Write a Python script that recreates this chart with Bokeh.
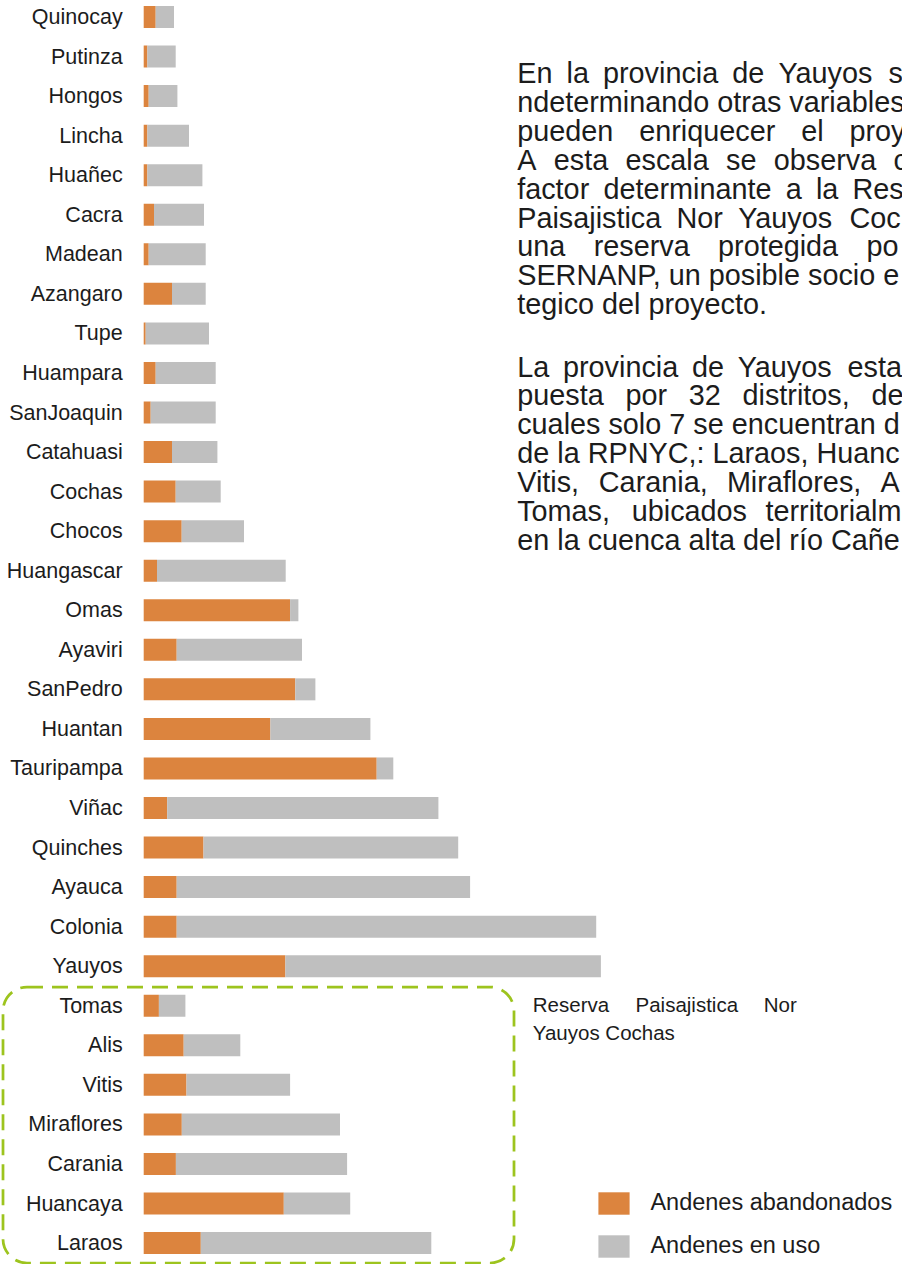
from bokeh.plotting import figure
from bokeh.models import Range1d, Label, BoxAnnotation, Legend, LegendItem, ColumnDataSource
from bokeh.core.properties import value
from bokeh.embed import file_html
from bokeh.resources import INLINE

# ---------------- data ----------------
districts = ["Quinocay", "Putinza", "Hongos", "Lincha", "Huañec", "Cacra", "Madean", "Azangaro",
             "Tupe", "Huampara", "SanJoaquin", "Catahuasi", "Cochas", "Chocos", "Huangascar", "Omas",
             "Ayaviri", "SanPedro", "Huantan", "Tauripampa", "Viñac", "Quinches", "Ayauca", "Colonia",
             "Yauyos", "Tomas", "Alis", "Vitis", "Miraflores", "Carania", "Huancaya", "Laraos"]
abandonados = [12, 3.7, 5, 3.7, 3.7, 10.3, 5, 28.3,
               2, 12, 7, 28.3, 32, 38, 13.3, 146.4,
               33, 151.6, 126.7, 233, 23.5, 59.8, 33, 33,
               141.7, 15.2, 40, 42.8, 38.1, 32.2, 140.1, 57.1]
en_uso = [18.3, 28.3, 28.7, 41.6, 55, 50, 57, 33.7,
          63.3, 60, 65, 45.4, 45, 62.3, 128.7, 8.3,
          125.3, 20.1, 100, 16.6, 271.2, 254.7, 293.4, 419.5,
          315.5, 26.5, 56.6, 103.6, 158.2, 171.2, 66.4, 230.5]
series_labels = ["Andenes abandonados", "Andenes en uso"]
series_colors = ["#DC843E", "#BFBFBF"]
reserve_note = ["Reserva Paisajistica Nor", "Yauyos Cochas"]

# paragraph lines: (visible text, start x of last visible word if justified else None)
para1 = [("En la provincia de Yauyos s", 888),
         ("ndeterminando otras variables", None),
         ("pueden enriquecer el proy", 849),
         ("A esta escala se observa c", 893),
         ("factor determinante a la Res", 852),
         ("Paisajistica Nor Yauyos Coc", 849),
         ("una reserva protegida po", 866),
         ("SERNANP, un posible socio e", None),
         ("tegico del proyecto.", None)]
para2 = [("La provincia de Yauyos esta", 847),
         ("puesta por 32 distritos, de", 871),
         ("cuales solo 7 se encuentran d", None),
         ("de la RPNYC,: Laraos, Huanc", None),
         ("Vitis, Carania, Miraflores, A", 880),
         ("Tomas, ubicados territorialm", 765),
         ("en la cuenca alta del río Cañe", None)]

# ---------------- layout helpers ----------------
W, H = 902, 1264
BAR0 = 143.2          # pixel where bars start
ROW0, ROWH = 16.5, 39.55
FONT = "Liberation Sans"
TXT = "#1c1c1c"


def ydata(ref_y):
    return (ref_y - ROW0) / ROWH


def xdata(ref_x):
    return ref_x - BAR0


AW = dict(zip("abcdefghijklmnopqrstuvwxyz",
              [556, 556, 500, 556, 556, 278, 556, 556, 222, 222, 500, 222, 833, 556, 556, 556, 556, 333, 500, 278, 556, 500, 722, 500, 500, 500]))
AW.update(dict(zip("ABCDEFGHIJKLMNOPQRSTUVWXYZ",
                   [667, 667, 722, 722, 667, 611, 778, 722, 278, 500, 667, 556, 833, 722, 778, 667, 778, 722, 667, 611, 722, 667, 944, 667, 667, 611])))
AW.update({" ": 278, ",": 278, ".": 278, ":": 278, "ñ": 556, "í": 278})


def tw(s, size):
    return sum(AW.get(c, 556) for c in s) * size / 1000.0


pos = list(range(len(districts)))
src = ColumnDataSource(dict(district=districts, pos=pos, abandonados=abandonados, en_uso=en_uso))

p = figure(width=W, height=H, output_backend="svg", toolbar_location=None, tools="",
           x_range=Range1d(xdata(0), xdata(W)), y_range=Range1d(ydata(H), ydata(0)),
           min_border=0, x_axis_location=None, y_axis_location=None, outline_line_color=None)
p.xgrid.visible = False
p.ygrid.visible = False

rs = p.hbar_stack(["abandonados", "en_uso"], y="pos", height=0.556, source=src,
                  fill_color=series_colors, line_color=None)

# category labels
p.text(x=0, y="pos", text="district", source=src, x_offset=-21, text_align="right",
       text_baseline="middle", text_font=value(FONT), text_font_size=value("21.5px"), text_color=TXT)

# legend
legend = Legend(items=[LegendItem(label=series_labels[0], renderers=[rs[0]]),
                       LegendItem(label=series_labels[1], renderers=[rs[1]])],
                location=(594.4, 4.5), orientation="vertical",
                glyph_width=39, glyph_height=28, label_standoff=17, spacing=15,
                padding=0, margin=0, border_line_alpha=0, background_fill_alpha=0,
                label_text_font=FONT, label_text_font_size="23.5px", label_text_color=TXT)
p.add_layout(legend)

# reserve box
p.add_layout(BoxAnnotation(left=xdata(2.5), right=xdata(513.5), top=ydata(986.5), bottom=ydata(1262.5),
                           fill_color=None, fill_alpha=0, line_color="#9DC41E", line_alpha=1.0,
                           line_width=2.75, line_dash="16 9", border_radius=24))

# reserve note (justified first line)
note_words = reserve_note[0].split(" ")
note_x = [532.3, 635, 763.3]
for wd, xx in zip(note_words, note_x):
    p.add_layout(Label(x=xdata(xx), y=ydata(1004), text=wd, text_font=FONT, text_font_size="20.5px",
                       text_color=TXT, text_baseline="middle"))
p.add_layout(Label(x=xdata(532.3), y=ydata(1032), text=reserve_note[1], text_font=FONT,
                   text_font_size="20.5px", text_color=TXT, text_baseline="middle"))

# paragraphs
PSIZE = 28.8
X0 = 516.7


def draw_para(lines, c0, step):
    for k, (txt, xlast) in enumerate(lines):
        yc = ydata(c0 + step * k)
        if xlast is None:
            p.add_layout(Label(x=xdata(X0), y=yc, text=txt, text_font=FONT, text_font_size=f"{PSIZE}px",
                               text_color=TXT, text_baseline="middle"))
            continue
        words = txt.split(" ")
        inner = sum(tw(w, PSIZE) for w in words[:-1])
        gap = (xlast - X0 - inner) / (len(words) - 1)
        x = X0
        for w in words:
            p.add_layout(Label(x=xdata(x), y=yc, text=w, text_font=FONT, text_font_size=f"{PSIZE}px",
                               text_color=TXT, text_baseline="middle"))
            x += tw(w, PSIZE) + gap


draw_para(para1, 72.5, 28.9)
draw_para(para2, 366, 28.9)

open("out.html", "w").write(file_html(p, INLINE))
